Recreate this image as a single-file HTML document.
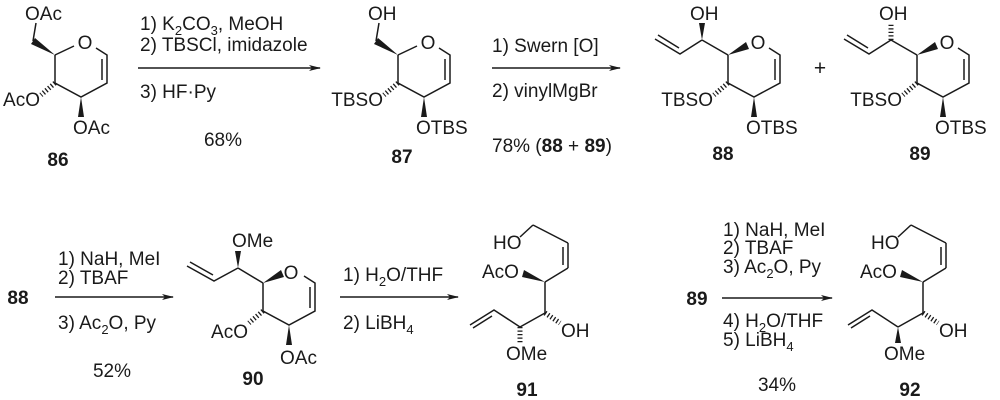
<!DOCTYPE html>
<html><head><meta charset="utf-8"><style>
html,body{margin:0;padding:0;background:#fff;}
svg{display:block;}
text{font-family:"Liberation Sans",sans-serif;font-size:19px;fill:#1a1a1a;}
.b{font-weight:bold;font-size:19px;}
.s{font-size:13px;}
line,path,polyline{stroke:#1a1a1a;stroke-width:1.5;fill:none;}
.h{stroke-width:5;stroke-dasharray:1.3 2.2;}
polygon{fill:#1a1a1a;stroke:none;}
</style></head><body>
<svg width="1000" height="400" viewBox="0 0 1000 400" xmlns="http://www.w3.org/2000/svg">
<defs>
<marker id="ar" markerWidth="12" markerHeight="8" refX="11" refY="4" orient="auto" markerUnits="userSpaceOnUse">
<path d="M0,1 L12,4 L0,7 L3,4 Z" style="fill:#1a1a1a;stroke:none"/>
</marker>
</defs>

<!-- 86 -->
<g>
<path d="M55,55 L55,83 L81,97 L107,83 L107,55 L96,48"/>
<line x1="55" y1="55" x2="74" y2="46"/>
<line x1="102" y1="59" x2="102" y2="80"/>
<text x="85" y="49" text-anchor="middle">O</text>
<polygon points="55,55 31,44 35,38"/>
<line x1="33" y1="41" x2="36" y2="23"/>
<text x="25" y="20">OAc</text>
<line class="h" x1="55" y1="83" x2="41" y2="95"/>
<text x="40" y="106" text-anchor="end">AcO</text>
<polygon points="81,97 78,117 84,117"/>
<text x="73" y="134">OAc</text>
<text class="b" x="58" y="166" text-anchor="middle">86</text>
</g>

<!-- arrow 1 -->
<line x1="138" y1="68" x2="320" y2="68" marker-end="url(#ar)"/>
<text x="140" y="30">1) K<tspan class="s" dy="5">2</tspan><tspan dy="-5">CO</tspan><tspan class="s" dy="5">3</tspan><tspan dy="-5">, MeOH</tspan></text>
<text x="140" y="51">2) TBSCl, imidazole</text>
<text x="140" y="98">3) HF·Py</text>
<text x="223" y="146" text-anchor="middle">68%</text>

<!-- 87 -->
<g transform="translate(343,0)">
<path d="M55,55 L55,83 L81,97 L107,83 L107,55 L96,48"/>
<line x1="55" y1="55" x2="74" y2="46"/>
<line x1="102" y1="59" x2="102" y2="80"/>
<text x="85" y="49" text-anchor="middle">O</text>
<polygon points="55,55 31,44 35,38"/>
<line x1="33" y1="41" x2="36" y2="23"/>
<text x="25" y="20">OH</text>
<line class="h" x1="55" y1="83" x2="41" y2="95"/>
<text x="40" y="106" text-anchor="end">TBSO</text>
<polygon points="81,97 78,117 84,117"/>
<text x="73" y="134">OTBS</text>
<text class="b" x="59" y="163" text-anchor="middle">87</text>
</g>

<!-- arrow 2 -->
<line x1="492" y1="68" x2="620" y2="68" marker-end="url(#ar)"/>
<text x="492" y="52">1) Swern [O]</text>
<text x="492" y="97">2) vinylMgBr</text>
<text x="492" y="152">78% (<tspan font-weight="bold">88</tspan> + <tspan font-weight="bold">89</tspan>)</text>

<!-- 88 -->
<g transform="translate(673,0)">
<path d="M55,55 L55,83 L81,97 L107,83 L107,55 L96,48"/>
<polygon points="55,55 73,42 76,49"/>
<line x1="102" y1="59" x2="102" y2="80"/>
<text x="85" y="49" text-anchor="middle">O</text>
<line x1="55" y1="55" x2="29" y2="40"/>
<polygon points="29,40 26,23 32,23"/>
<text x="17" y="20">OH</text>
<polyline points="29,40 7,54 -18,39"/>
<line x1="6" y1="48" x2="-15" y2="35"/>
<line class="h" x1="55" y1="83" x2="41" y2="95"/>
<text x="40" y="106" text-anchor="end">TBSO</text>
<polygon points="81,97 78,117 84,117"/>
<text x="73" y="134">OTBS</text>
<text class="b" x="50" y="160" text-anchor="middle">88</text>
</g>

<text x="820" y="75" text-anchor="middle" style="font-size:21px">+</text>

<!-- 89 -->
<g transform="translate(862,0)">
<path d="M55,55 L55,83 L81,97 L107,83 L107,55 L96,48"/>
<polygon points="55,55 73,42 76,49"/>
<line x1="102" y1="59" x2="102" y2="80"/>
<text x="85" y="49" text-anchor="middle">O</text>
<line x1="55" y1="55" x2="29" y2="40"/>
<line class="h" x1="29" y1="40" x2="29" y2="24"/>
<text x="17" y="20">OH</text>
<polyline points="29,40 7,54 -18,39"/>
<line x1="6" y1="48" x2="-15" y2="35"/>
<line class="h" x1="55" y1="83" x2="41" y2="95"/>
<text x="40" y="106" text-anchor="end">TBSO</text>
<polygon points="81,97 78,117 84,117"/>
<text x="73" y="134">OTBS</text>
<text class="b" x="58" y="160" text-anchor="middle">89</text>
</g>

<!-- row 2 -->
<text class="b" x="18" y="304" text-anchor="middle">88</text>
<line x1="55" y1="297" x2="173" y2="297" marker-end="url(#ar)"/>
<text x="58" y="265">1) NaH, MeI</text>
<text x="58" y="284">2) TBAF</text>
<text x="58" y="329">3) Ac<tspan class="s" dy="5">2</tspan><tspan dy="-5">O, Py</tspan></text>
<text x="112" y="377" text-anchor="middle">52%</text>

<!-- 90 -->
<g transform="translate(208,228)">
<path d="M55,55 L55,83 L81,97 L107,83 L107,55 L96,48"/>
<polygon points="55,55 73,42 76,49"/>
<line x1="102" y1="59" x2="102" y2="80"/>
<text x="83" y="51" text-anchor="middle">O</text>
<line x1="55" y1="55" x2="30" y2="40"/>
<polygon points="30,40 27,23 33,23"/>
<text x="24" y="19">OMe</text>
<polyline points="30,40 6,53 -21,38"/>
<line x1="5" y1="47" x2="-18" y2="34"/>
<line class="h" x1="55" y1="83" x2="41" y2="95"/>
<text x="40" y="110" text-anchor="end">AcO</text>
<polygon points="81,97 78,117 84,117"/>
<text x="72" y="136">OAc</text>
<text class="b" x="45" y="157" text-anchor="middle">90</text>
</g>

<line x1="340" y1="297" x2="458" y2="297" marker-end="url(#ar)"/>
<text x="343" y="281">1) H<tspan class="s" dy="5">2</tspan><tspan dy="-5">O/THF</tspan></text>
<text x="343" y="329">2) LiBH<tspan class="s" dy="5">4</tspan></text>

<!-- 91 -->
<g>
<text x="493" y="249">HO</text>
<line x1="520" y1="237" x2="533" y2="225"/>
<line x1="533" y1="225" x2="568" y2="243"/>
<line x1="568" y1="243" x2="568" y2="268"/>
<line x1="563" y1="247" x2="563" y2="265"/>
<line x1="568" y1="268" x2="545" y2="282"/>
<polygon points="545,282 524,270 522,277"/>
<text x="482" y="278">AcO</text>
<line x1="545" y1="282" x2="545" y2="313"/>
<line class="h" x1="545" y1="313" x2="560" y2="323"/>
<text x="561" y="337">OH</text>
<line x1="545" y1="313" x2="520" y2="327"/>
<line class="h" x1="520" y1="327" x2="520" y2="343"/>
<text x="506" y="360">OMe</text>
<polyline points="520,327 494,310 470,325"/>
<line x1="492" y1="316" x2="473" y2="328"/>
<text class="b" x="527" y="396" text-anchor="middle">91</text>
</g>

<!-- 89 → 92 -->
<text class="b" x="697" y="305" text-anchor="middle">89</text>
<line x1="722" y1="298" x2="832" y2="298" marker-end="url(#ar)"/>
<text x="723" y="236">1) NaH, MeI</text>
<text x="723" y="254">2) TBAF</text>
<text x="723" y="273">3) Ac<tspan class="s" dy="5">2</tspan><tspan dy="-5">O, Py</tspan></text>
<text x="723" y="327">4) H<tspan class="s" dy="5">2</tspan><tspan dy="-5">O/THF</tspan></text>
<text x="723" y="346">5) LiBH<tspan class="s" dy="5">4</tspan></text>
<text x="777" y="391" text-anchor="middle">34%</text>

<!-- 92 -->
<g transform="translate(378,0)">
<text x="493" y="249">HO</text>
<line x1="520" y1="237" x2="533" y2="225"/>
<line x1="533" y1="225" x2="568" y2="243"/>
<line x1="568" y1="243" x2="568" y2="268"/>
<line x1="563" y1="247" x2="563" y2="265"/>
<line x1="568" y1="268" x2="545" y2="282"/>
<polygon points="545,282 524,270 522,277"/>
<text x="482" y="278">AcO</text>
<line x1="545" y1="282" x2="545" y2="313"/>
<line class="h" x1="545" y1="313" x2="560" y2="323"/>
<text x="561" y="337">OH</text>
<line x1="545" y1="313" x2="520" y2="327"/>
<polygon points="520,327 517,343 523,343"/>
<text x="506" y="360">OMe</text>
<polyline points="520,327 494,310 470,325"/>
<line x1="492" y1="316" x2="473" y2="328"/>
<text class="b" x="532" y="396" text-anchor="middle">92</text>
</g>
</svg>
</body></html>
